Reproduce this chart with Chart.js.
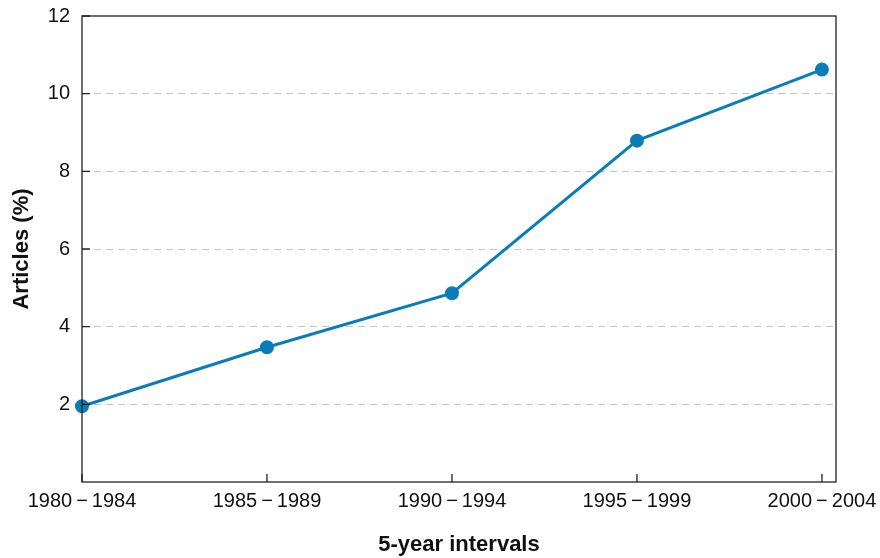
<!DOCTYPE html>
<html>
<head>
<meta charset="utf-8">
<script src="https://cdn.jsdelivr.net/npm/chart.js@4.4.0/dist/chart.umd.min.js"></script>
<style>
  html, body { margin: 0; padding: 0; background: #fff; }
  #wrap { width: 880px; height: 558px; }
</style>
</head>
<body>
<div id="wrap"><canvas id="grafico" width="880" height="558"></canvas></div>
<script>
// categorias do eixo x e valores (%)
const intervalos = ['1980\u20131984', '1985\u20131989', '1990\u20131994', '1995\u20131999', '2000\u20132004'];
const artigos = [1.95, 3.47, 4.86, 8.79, 10.62];
const ticksY = [2, 4, 6, 8, 10, 12];

// labels com sinal de menos espaçado como no original
const rotulos = intervalos.map(function (t) { return t.replace('\u2013', '\u2009\u2212\u2009'); });

const corLinha = '#0A7DB7';
const fonte = 'Liberation Sans, Arial, sans-serif';

// desenha a moldura e os ticks para dentro
const moldura = {
    id: 'moldura',
    afterDraw(chart) {
        const ctx = chart.ctx;
        const a = chart.chartArea;
        const x = chart.scales.x;
        const y = chart.scales.y;
        ctx.save();
        ctx.strokeStyle = '#222';
        ctx.lineWidth = 1.3;
        ctx.strokeRect(a.left, a.top, a.right - a.left, a.bottom - a.top);
        ctx.beginPath();
        for (let i = 0; i < rotulos.length; i++) {
            const px = x.getPixelForValue(i);
            ctx.moveTo(px, a.bottom);
            ctx.lineTo(px, a.bottom - 8);
        }
        for (let i = 0; i < ticksY.length; i++) {
            const py = y.getPixelForValue(ticksY[i]);
            ctx.moveTo(a.left, py);
            ctx.lineTo(a.left + 8, py);
        }
        ctx.stroke();
        ctx.restore();
    }
};

const dados = {
    datasets: [{
        label: 'Articles',
        data: artigos.map(function (v, i) { return { x: i, y: v }; }),
        borderColor: corLinha,
        backgroundColor: corLinha,
        borderWidth: 3,
        pointRadius: 5.5,
        pointHoverRadius: 5.5,
        tension: 0,
        clip: false
    }]
};

const config = {
    type: 'line',
    data: dados,
    plugins: [moldura],
    options: {
        responsive: false,
        animation: false,
        layout: { padding: { top: 16, right: 44, left: 0, bottom: 0 } },
        plugins: { legend: { display: false }, tooltip: { enabled: false } },
        scales: {
            x: {
                type: 'linear',
                min: 0,
                max: 4.076,
                afterBuildTicks: function (s) {
                    s.ticks = rotulos.map(function (_, i) { return { value: i }; });
                },
                afterFit: function (s) { s.height = 76; s.paddingLeft = 0; s.paddingRight = 0; },
                ticks: {
                    callback: function (v) { return rotulos[v]; },
                    color: '#111',
                    font: { family: fonte, size: 20 },
                    padding: 7,
                    maxRotation: 0,
                    autoSkip: false
                },
                grid: { display: false, drawTicks: false },
                border: { display: false },
                title: {
                    display: true,
                    text: '5-year intervals',
                    color: '#111',
                    font: { family: fonte, size: 22, weight: 'bold' },
                    padding: { top: 20, bottom: 0 }
                }
            },
            y: {
                min: 0,
                max: 12,
                afterBuildTicks: function (s) {
                    s.ticks = ticksY.map(function (v) { return { value: v }; });
                },
                afterFit: function (s) { s.width = 82; s.paddingTop = 0; s.paddingBottom = 0; },
                ticks: {
                    color: '#111',
                    font: { family: fonte, size: 20 },
                    padding: 12
                },
                grid: {
                    drawTicks: false,
                    color: function (c) { return c.tick && c.tick.value < 12 ? '#c4c4c4' : 'rgba(0,0,0,0)'; },
                    lineWidth: 1
                },
                border: { display: false, dash: [7, 5] },
                title: {
                    display: true,
                    text: 'Articles (%)',
                    color: '#111',
                    font: { family: fonte, size: 22, weight: 'bold' },
                    padding: { bottom: 0, top: 9 }
                }
            }
        }
    }
};

let myChart = new Chart(document.getElementById('grafico'), config);
</script>
</body>
</html>
